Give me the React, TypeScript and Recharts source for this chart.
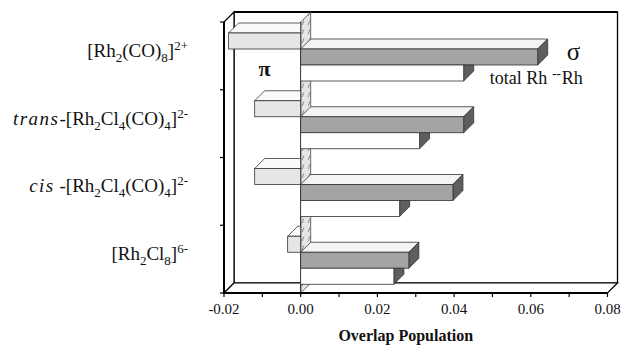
import React from 'react';
import { BarChart, Bar, XAxis, YAxis, ReferenceArea } from 'recharts';

const categories = ['[Rh2(CO)8]2+', 'trans-[Rh2Cl4(CO)4]2-', 'cis -[Rh2Cl4(CO)4]2-', '[Rh2Cl8]6-'];
const piValues = [-0.0188, -0.012, -0.012, -0.0034];
const sigmaValues = [0.0618, 0.0425, 0.0397, 0.0282];
const totalValues = [0.0425, 0.031, 0.0258, 0.0243];
const xDomain = [-0.02, 0.08];
const xTicks = [-0.02, -0.01, 0, 0.01, 0.02, 0.03, 0.04, 0.05, 0.06, 0.07, 0.08];

type Part = { t: string; k?: 'sub' | 'sup' | 'it' };
const labelParts: Part[][] = [
  [{ t: '[Rh' }, { t: '2', k: 'sub' }, { t: '(CO)' }, { t: '8', k: 'sub' }, { t: ']' }, { t: '2+', k: 'sup' }],
  [{ t: 'trans', k: 'it' }, { t: '-[Rh' }, { t: '2', k: 'sub' }, { t: 'Cl' }, { t: '4', k: 'sub' }, { t: '(CO)' }, { t: '4', k: 'sub' }, { t: ']' }, { t: '2-', k: 'sup' }],
  [{ t: 'cis', k: 'it' }, { t: ' -[Rh' }, { t: '2', k: 'sub' }, { t: 'Cl' }, { t: '4', k: 'sub' }, { t: '(CO)' }, { t: '4', k: 'sub' }, { t: ']' }, { t: '2-', k: 'sup' }],
  [{ t: '[Rh' }, { t: '2', k: 'sub' }, { t: 'Cl' }, { t: '8', k: 'sub' }, { t: ']' }, { t: '6-', k: 'sup' }],
];

const data = categories.map((name, i) => ({
  name,
  pi: piValues[i],
  sigma: sigmaValues[i],
  total: totalValues[i],
}));

const FONT = "'Liberation Serif', 'DejaVu Serif', serif";
const serif = { fontFamily: FONT };
const DX = 10;
const DY = -10;
const EDGE = '#333';

function Frame(p: any) {
  const { x, y, width: w, height: h } = p;
  const x0 = x + (w * (0 - xDomain[0])) / (xDomain[1] - xDomain[0]);
  const n = categories.length;
  const ticks = [];
  for (let i = 0; i <= n; i++) {
    const ty = y + (h * i) / n;
    ticks.push(<line key={i} x1={x - 4} y1={ty} x2={x} y2={ty} stroke="#000" strokeWidth={1.2} />);
  }
  return (
    <g>
      <defs>
        <pattern id="hatch" width="6" height="9" patternUnits="userSpaceOnUse">
          <rect width="6" height="9" fill="#e6e6e6" />
          <path d="M2.2 7 L3.8 2.5" stroke="#8a8a8a" strokeWidth="1" />
        </pattern>
      </defs>
      <rect x={x + DX} y={y + DY} width={w} height={h} fill="#fff" stroke="#000" strokeWidth={1.3} />
      <line x1={x + DX} y1={y + DY} x2={x + w + DX} y2={y + DY} stroke="#000" strokeWidth={2} />
      <polygon
        points={`${x},${y} ${x + DX},${y + DY} ${x + DX},${y + h + DY} ${x},${y + h}`}
        fill="#fff"
        stroke="#000"
        strokeWidth={1.2}
      />
      <polygon
        points={`${x},${y + h} ${x + DX},${y + h + DY} ${x + w + DX},${y + h + DY} ${x + w},${y + h}`}
        fill="#fff"
        stroke="#000"
        strokeWidth={1.2}
      />
      <polygon
        points={`${x0},${y} ${x0 + DX},${y + DY} ${x0 + DX},${y + h + DY} ${x0},${y + h}`}
        fill="url(#hatch)"
        stroke="#444"
        strokeWidth={0.8}
      />
      <line x1={x0} y1={y} x2={x0} y2={y + h} stroke="#222" strokeWidth={1} />
      {ticks}
    </g>
  );
}

function PiShape(p: any) {
  const L = Math.min(p.x, p.x + p.width);
  const R = Math.max(p.x, p.x + p.width);
  const T = p.y + 1;
  const H = p.height;
  return (
    <g>
      <polygon points={`${L},${T} ${L + DX},${T + DY} ${R},${T + DY} ${R},${T}`} fill="#fafafa" stroke={EDGE} strokeWidth={0.8} />
      <rect x={L} y={T} width={R - L} height={H} fill="#e6e6e6" stroke={EDGE} strokeWidth={0.8} />
      {p.index === 0 && (
        <text x={(L + R) / 2} y={T + H + 27} textAnchor="middle" style={serif} fontSize={22} fontWeight="bold" fill="#111">
          π
        </text>
      )}
    </g>
  );
}

function SigmaShape(p: any) {
  const L = Math.min(p.x, p.x + p.width);
  const R = Math.max(p.x, p.x + p.width);
  const T = p.y + 1;
  const H = p.height;
  return (
    <g>
      <polygon points={`${L},${T} ${L + DX},${T + DY} ${R + DX},${T + DY} ${R},${T}`} fill="#f4f4f4" stroke={EDGE} strokeWidth={0.8} />
      <polygon points={`${R},${T} ${R + DX},${T + DY} ${R + DX},${T + H + DY} ${R},${T + H}`} fill="#5e5e5e" stroke={EDGE} strokeWidth={0.8} />
      <rect x={L} y={T} width={R - L} height={H} fill="#a4a4a4" stroke={EDGE} strokeWidth={0.8} />
      {p.index === 0 && (
        <text x={R + DX + 19} y={T + 11} style={serif} fontSize={25} fill="#111">
          σ
        </text>
      )}
    </g>
  );
}

function TotalShape(p: any) {
  const L = Math.min(p.x, p.x + p.width);
  const R = Math.max(p.x, p.x + p.width);
  const T = p.y + 1;
  const H = p.height;
  return (
    <g>
      <polygon points={`${R},${T} ${R + DX},${T} ${R + DX},${T + H + DY} ${R},${T + H}`} fill="#5e5e5e" stroke={EDGE} strokeWidth={0.8} />
      <rect x={L} y={T} width={R - L} height={H} fill="#ffffff" stroke={EDGE} strokeWidth={0.8} />
      {p.index === 0 && (
        <text x={R + 26} y={T + 19} style={serif} fontSize={18} fill="#111">
          total Rh
          <tspan dx={5} dy={-6} fontSize={13} fontWeight="bold">--</tspan>
          <tspan dx={1} dy={6}>Rh</tspan>
        </text>
      )}
    </g>
  );
}

function CatTick(props: any) {
  const { x, y, payload } = props;
  const idx = categories.indexOf(payload.value);
  const parts: Part[] = labelParts[idx] ?? [{ t: String(payload.value) }];
  let shift = 0;
  const spans = parts.map((pt, i) => {
    const target = pt.k === 'sub' ? 5 : pt.k === 'sup' ? -7 : 0;
    const dy = target - shift;
    shift = target;
    const small = pt.k === 'sub' || pt.k === 'sup';
    return (
      <tspan
        key={i}
        dy={dy}
        fontSize={small ? 13 : 19}
        fontStyle={pt.k === 'it' ? 'italic' : undefined}
        letterSpacing={pt.k === 'it' ? 1.5 : undefined}
      >
        {pt.t}
      </tspan>
    );
  });
  return (
    <text x={x} y={y + 1} textAnchor="end" style={serif} fontSize={19} fill="#111">
      {spans}
    </text>
  );
}

const fmt = (v: number) => (Math.round(v * 100) % 2 === 0 ? v.toFixed(2) : '');

export default function App() {
  return (
    <div style={{ position: 'absolute', left: 0, top: 0, background: '#fff', fontFamily: FONT }}>
      <BarChart
        width={622}
        height={351}
        data={data}
        layout="vertical"
        margin={{ top: 22, right: 14.5, bottom: 0, left: 0 }}
        barGap={0}
        style={serif}
      >
        <ReferenceArea x1={xDomain[0]} x2={xDomain[1]} ifOverflow="visible" shape={(p: any) => <Frame {...p} />} />
        <XAxis
          type="number"
          domain={xDomain}
          ticks={xTicks}
          interval={0}
          allowDataOverflow
          tickFormatter={fmt}
          tick={{ fontSize: 15, fill: '#111', fontFamily: FONT, style: serif }}
          axisLine={{ stroke: '#000', strokeWidth: 1.8 }}
          tickLine={{ stroke: '#000', strokeWidth: 1.2 }}
          tickSize={4}
          tickMargin={6}
          height={58}
          label={{
            content: (lp: any) => (
              <text
                x={lp.viewBox.x + lp.viewBox.width / 2 - 10}
                y={lp.viewBox.y + 48}
                textAnchor="middle"
                style={serif}
                fontSize={16}
                fontWeight="bold"
                fill="#111"
              >
                Overlap Population
              </text>
            ),
          }}
        />
        <YAxis
          type="category"
          dataKey="name"
          width={224}
          interval={0}
          axisLine={{ stroke: '#000', strokeWidth: 2 }}
          tickLine={false}
          tickSize={0}
          tickMargin={36}
          tick={(tp: any) => <CatTick {...tp} />}
        />
        <Bar dataKey="pi" barSize={16} isAnimationActive={false} shape={(p: any) => <PiShape {...p} />} />
        <Bar dataKey="sigma" barSize={16} isAnimationActive={false} shape={(p: any) => <SigmaShape {...p} />} />
        <Bar dataKey="total" barSize={16} isAnimationActive={false} shape={(p: any) => <TotalShape {...p} />} />
      </BarChart>
    </div>
  );
}
